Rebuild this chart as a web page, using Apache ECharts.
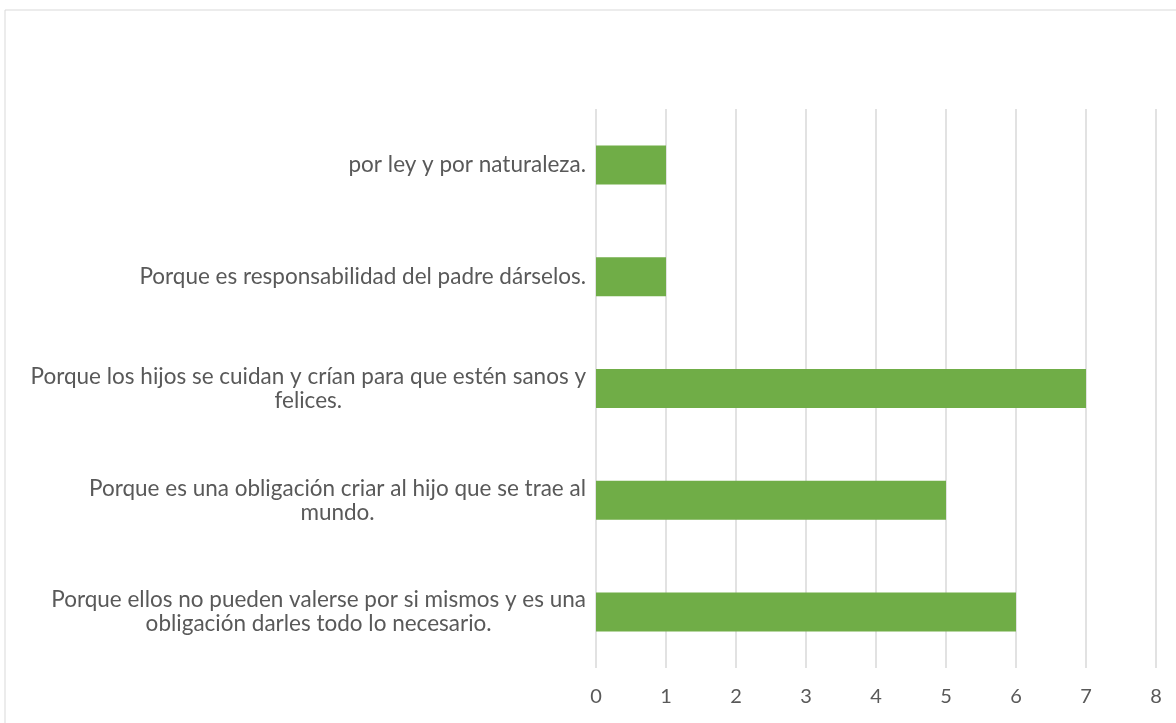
<!DOCTYPE html>
<html>
<head>
<meta charset="utf-8">
<script src="https://cdn.jsdelivr.net/npm/echarts@6/dist/echarts.min.js"></script>
<style>
  html, body { margin: 0; padding: 0; background: #fff; }
  #chart { width: 1176px; height: 723px; }
</style>
</head>
<body>
<div id="chart"></div>
<script>
// categories listed bottom to top, as the category axis draws them
var categories = [
    'Porque ellos no pueden valerse por si mismos y es una\nobligación darles todo lo necesario.',
    'Porque es una obligación criar al hijo que se trae al\nmundo.',
    'Porque los hijos se cuidan y crían para que estén sanos y\nfelices.',
    'Porque es responsabilidad del padre dárselos.',
    'por ley y por naturaleza.'
];
var values = [6, 5, 7, 1, 1];
var xTicks = [0, 1, 2, 3, 4, 5, 6, 7, 8];

var myChart = echarts.init(document.getElementById('chart'));

var option = {
    animation: false,
    textStyle: { fontFamily: 'Lato, "Open Sans", sans-serif' },
    graphic: [{
        type: 'rect',
        shape: { x: 5, y: 10, width: 1300, height: 800 },
        style: { fill: 'none', stroke: '#d9d9d9', lineWidth: 1 },
        silent: true
    }],
    grid: { left: 596, right: 20, top: 109, bottom: 55 },
    xAxis: {
        type: 'value',
        min: xTicks[0],
        max: xTicks[xTicks.length - 1],
        interval: 1,
        axisLine: { show: false },
        axisTick: { show: false },
        axisLabel: { color: '#595959', fontSize: 20, margin: 19 },
        splitLine: { lineStyle: { color: '#d9d9d9', width: 1.5 } }
    },
    yAxis: {
        type: 'category',
        data: categories,
        axisLine: { show: false },
        axisTick: { show: false },
        axisLabel: {
            margin: 10,
            lineHeight: 24,
            formatter: function (v) {
                return v.split('\n').map(function (s) { return '{c|' + s + '}'; }).join('\n');
            },
            rich: {
                c: { color: '#595959', fontSize: 22.5, lineHeight: 24, align: 'center', fontFamily: 'Lato, "Open Sans", sans-serif' }
            }
        }
    },
    series: [{
        type: 'bar',
        data: values,
        barWidth: 39,
        itemStyle: { color: '#70ad47' }
    }]
};

myChart.setOption(option);
</script>
</body>
</html>
